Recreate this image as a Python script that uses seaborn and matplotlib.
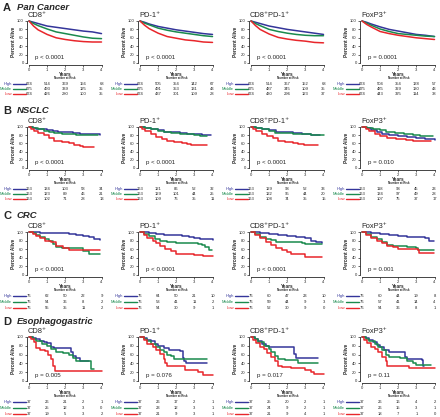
import matplotlib
matplotlib.use('Agg')
import matplotlib.pyplot as plt
import matplotlib.transforms as mtransforms
from matplotlib.lines import Line2D
import pandas as pd
import seaborn as sns

# ---- data ---------------------------------------------------------------
row_names = ['Pan Cancer', 'NSCLC', 'CRC', 'Esophagogastric']
row_letters = ['A', 'B', 'C', 'D']
markers = ['CD8', 'PD1', 'CD8PD1', 'FOXP3']
marker_titles = ['CD8\u207a', 'PD-1\u207a', 'CD8\u207aPD-1\u207a', 'FoxP3\u207a']
groups = ['High', 'Middle', 'Low']
risk_years = [0, 1, 2, 3, 4]

# survival curves as (years, percent alive) knots
pan_curves = {
    'CD8': {
        'High': [(0, 100), (.25, 97), (.5, 94), (1, 88), (1.5, 85), (2, 82), (2.5, 79), (3, 76), (3.5, 74), (4, 70)],
        'Middle': [(0, 100), (.25, 94), (.5, 89), (1, 81), (1.5, 74), (2, 70), (2.5, 66), (3, 62), (3.5, 59), (4, 58)],
        'Low': [(0, 100), (.25, 88), (.5, 79), (1, 68), (1.5, 60), (2, 56), (2.5, 53), (3, 51), (3.5, 50), (4, 50)],
    },
    'PD1': {
        'High': [(0, 100), (.25, 97), (.5, 93), (1, 87), (1.5, 83), (2, 79), (2.5, 76), (3, 73), (3.5, 70), (4, 68)],
        'Middle': [(0, 100), (.25, 95), (.5, 91), (1, 83), (1.5, 78), (2, 74), (2.5, 71), (3, 68), (3.5, 65), (4, 63)],
        'Low': [(0, 100), (.25, 90), (.5, 82), (1, 71), (1.5, 63), (2, 59), (2.5, 55), (3, 53), (3.5, 50), (4, 49)],
    },
    'CD8PD1': {
        'High': [(0, 100), (.25, 97), (.5, 94), (1, 88), (1.5, 84), (2, 80), (2.5, 77), (3, 74), (3.5, 71), (4, 68)],
        'Middle': [(0, 100), (.25, 94), (.5, 89), (1, 80), (1.5, 75), (2, 71), (2.5, 68), (3, 66), (3.5, 65), (4, 65)],
        'Low': [(0, 100), (.25, 89), (.5, 80), (1, 69), (1.5, 61), (2, 57), (2.5, 54), (3, 52), (3.5, 49), (4, 48)],
    },
    'FOXP3': {
        'High': [(0, 100), (.25, 97), (.5, 93), (1, 86), (1.5, 80), (2, 76), (2.5, 72), (3, 68), (3.5, 66), (4, 63)],
        'Middle': [(0, 100), (.25, 95), (.5, 90), (1, 81), (1.5, 75), (2, 70), (2.5, 68), (3, 66), (3.5, 64), (4, 63)],
        'Low': [(0, 100), (.25, 92), (.5, 86), (1, 75), (1.5, 70), (2, 66), (2.5, 63), (3, 60), (3.5, 58), (4, 56)],
    },
}
nsclc_curves = {
    'CD8': {
        'High': [(0, 100), (.2, 98), (.4, 96), (.7, 94), (1, 92), (1.3, 90), (1.6, 88), (2, 87), (2.4, 85), (2.8, 84), (3.2, 83), (3.6, 82), (3.9, 81)],
        'Middle': [(0, 100), (.2, 97), (.5, 94), (.8, 91), (1.1, 88), (1.4, 86), (1.8, 84), (2.2, 83), (2.6, 81), (3, 80), (3.8, 80)],
        'Low': [(0, 100), (.1, 95), (.3, 90), (.5, 86), (.8, 80), (1.1, 74), (1.4, 66), (1.8, 63), (2.2, 60), (2.5, 57), (2.8, 54), (3, 52), (3.6, 52)],
    },
    'PD1': {
        'High': [(0, 100), (.3, 97), (.6, 95), (1, 92), (1.3, 89), (1.7, 87), (2.2, 86), (2.6, 84), (3, 83), (3.4, 81), (3.9, 80)],
        'Middle': [(0, 100), (.3, 97), (.6, 94), (1, 91), (1.3, 88), (1.7, 86), (2.2, 84), (2.6, 82), (3, 80), (3.3, 78), (3.7, 78)],
        'Low': [(0, 100), (.1, 95), (.3, 90), (.6, 83), (.9, 76), (1.2, 70), (1.5, 66), (1.9, 64), (2.3, 61), (2.6, 58), (2.8, 56), (3.7, 55)],
    },
    'CD8PD1': {
        'High': [(0, 100), (.3, 97), (.6, 95), (1, 92), (1.4, 88), (1.8, 87), (2.3, 85), (2.8, 83), (3.3, 81), (3.8, 80)],
        'Middle': [(0, 100), (.3, 98), (.6, 94), (1, 90), (1.3, 86), (1.8, 85), (2.3, 84), (2.8, 82), (3.3, 81), (4, 81)],
        'Low': [(0, 100), (.1, 95), (.3, 90), (.6, 83), (.9, 77), (1.2, 72), (1.5, 67), (1.9, 64), (2.3, 61), (2.6, 58), (2.9, 55), (3.7, 55)],
    },
    'FOXP3': {
        'High': [(0, 100), (.2, 97), (.5, 93), (.8, 87), (1.1, 83), (1.5, 80), (2, 77), (2.5, 75), (3, 72), (3.5, 70), (4, 69)],
        'Middle': [(0, 100), (.3, 98), (.6, 96), (1, 93), (1.3, 88), (1.8, 86), (2.3, 83), (2.8, 81), (3.2, 79), (3.9, 78)],
        'Low': [(0, 100), (.2, 95), (.4, 90), (.7, 84), (1, 78), (1.4, 74), (1.9, 71), (2.4, 69), (2.8, 67), (3.3, 66), (3.8, 66)],
    },
}
crc_curves = {
    'CD8': {
        'High': [(0, 100), (.6, 98), (1.2, 97), (2.2, 95), (2.6, 93), (3, 91), (3.3, 88), (3.6, 83), (3.9, 81)],
        'Middle': [(0, 100), (.2, 97), (.4, 93), (.6, 88), (.9, 83), (1.1, 78), (1.3, 73), (1.5, 66), (1.8, 62), (2.7, 62), (3, 55), (3.3, 49), (3.9, 49)],
        'Low': [(0, 100), (.2, 95), (.4, 90), (.6, 85), (.9, 80), (1.2, 76), (1.5, 67), (1.9, 62), (2.2, 58), (2.5, 57), (3.9, 57)],
    },
    'PD1': {
        'High': [(0, 100), (.5, 98), (.9, 96), (1.3, 94), (1.8, 92), (2.3, 90), (2.7, 88), (3, 85), (3.3, 83), (4, 82)],
        'Middle': [(0, 100), (.2, 96), (.5, 90), (.8, 84), (1.1, 79), (1.5, 77), (2, 75), (2.6, 74), (3.2, 72), (3.4, 70), (3.6, 65), (3.8, 59), (3.95, 59)],
        'Low': [(0, 100), (.2, 93), (.4, 87), (.7, 80), (.9, 74), (1.1, 68), (1.4, 60), (1.7, 55), (2, 50), (2.8, 50), (3, 47), (3.5, 44), (4, 44)],
    },
    'CD8PD1': {
        'High': [(0, 100), (.5, 98), (1, 95), (1.5, 93), (2, 91), (2.5, 89), (3, 86), (3.3, 80), (3.6, 77), (3.9, 75)],
        'Middle': [(0, 100), (.2, 96), (.5, 89), (.8, 84), (1.1, 81), (1.4, 76), (2, 76), (2.8, 75), (3, 73), (3.9, 73)],
        'Low': [(0, 100), (.2, 94), (.5, 86), (.8, 77), (1.1, 70), (1.4, 62), (1.7, 57), (2, 54), (2.2, 50), (2.5, 49), (2.9, 48), (3, 43), (3.9, 43)],
    },
    'FOXP3': {
        'High': [(0, 100), (.5, 97), (1, 95), (1.5, 93), (2, 91), (2.5, 89), (3, 88), (3.5, 85), (3.7, 80), (3.95, 80)],
        'Middle': [(0, 100), (.2, 95), (.5, 89), (.8, 83), (1.1, 77), (1.4, 70), (1.7, 67), (2.5, 66), (3, 63), (3.1, 58), (3.95, 58)],
        'Low': [(0, 100), (.2, 94), (.5, 86), (.8, 80), (1.1, 74), (1.4, 68), (1.7, 64), (2, 61), (2.5, 60), (3.1, 58), (3.15, 52), (3.95, 52)],
    },
}
eg_curves = {
    'CD8': {
        'High': [(0, 100), (.2, 97), (.4, 95), (.6, 92), (.8, 89), (1, 86), (1.2, 78), (1.4, 75), (2.2, 75), (2.3, 65), (2.45, 56), (2.6, 52), (2.8, 45), (3.3, 45)],
        'Middle': [(0, 100), (.2, 96), (.4, 92), (.7, 85), (1, 80), (1.2, 72), (1.5, 67), (1.9, 63), (2.2, 58), (2.4, 52), (2.6, 45), (3.3, 45), (3.4, 28), (3.6, 28)],
        'Low': [(0, 100), (.1, 95), (.3, 88), (.4, 76), (.6, 70), (.9, 68), (1.05, 60), (1.2, 50), (1.35, 35), (1.45, 22), (4, 22)],
    },
    'PD1': {
        'High': [(0, 100), (.2, 97), (.4, 94), (.6, 90), (.8, 85), (1, 80), (1.3, 74), (1.6, 70), (2.2, 69), (2.35, 52), (2.45, 45), (2.55, 40), (3.7, 40)],
        'Middle': [(0, 100), (.2, 95), (.4, 90), (.6, 83), (.9, 77), (1.1, 71), (1.3, 66), (1.5, 60), (1.7, 56), (1.9, 50), (3.7, 50)],
        'Low': [(0, 100), (.2, 93), (.4, 85), (.7, 78), (.9, 70), (1.1, 62), (1.3, 50), (1.4, 42), (1.5, 35), (2.3, 35), (2.5, 25), (3.2, 21), (3.5, 14), (4, 14)],
    },
    'CD8PD1': {
        'High': [(0, 100), (.2, 96), (.4, 90), (.6, 84), (.8, 80), (1, 77), (2.2, 77), (2.35, 62), (2.5, 53), (3.7, 53)],
        'Middle': [(0, 100), (.2, 95), (.4, 88), (.7, 80), (1, 72), (1.1, 65), (1.3, 56), (1.5, 50), (1.9, 47), (2.5, 47), (2.6, 40), (3.7, 40)],
        'Low': [(0, 100), (.1, 94), (.3, 86), (.5, 78), (.7, 72), (.9, 63), (1.1, 55), (1.3, 45), (1.5, 35), (1.7, 32), (2.2, 30), (3, 26), (3.3, 21), (3.5, 15), (4, 15)],
    },
    'FOXP3': {
        'High': [(0, 100), (.2, 97), (.4, 93), (.6, 88), (.8, 82), (1, 77), (1.2, 70), (1.5, 66), (2.2, 66), (2.35, 55), (2.5, 50), (3.3, 48), (3.35, 33), (3.4, 33)],
        'Middle': [(0, 100), (.2, 96), (.4, 90), (.7, 83), (.9, 77), (1.1, 70), (1.3, 60), (1.5, 55), (2.1, 53), (2.5, 46), (2.8, 42), (3, 37), (3.8, 37)],
        'Low': [(0, 100), (.1, 94), (.3, 86), (.5, 78), (.7, 72), (.9, 65), (1.1, 55), (1.3, 45), (1.4, 35), (2.5, 35), (2.6, 30), (4, 30)],
    },
}

# number at risk at 0..4 years
pan_risk = {
    'CD8': {'High': [674, 514, 369, 156, 68], 'Middle': [675, 493, 339, 125, 35], 'Low': [674, 426, 280, 100, 35]},
    'PD1': {'High': [674, 505, 354, 142, 67], 'Middle': [675, 491, 353, 131, 43], 'Low': [674, 437, 301, 109, 28]},
    'CD8PD1': {'High': [674, 514, 367, 152, 68], 'Middle': [675, 487, 345, 109, 35], 'Low': [674, 430, 296, 123, 37]},
    'FOXP3': {'High': [674, 504, 354, 138, 57], 'Middle': [675, 485, 329, 130, 43], 'Low': [674, 443, 325, 114, 38]},
}
nsclc_risk = {
    'CD8': {'High': [163, 134, 103, 58, 34], 'Middle': [163, 123, 89, 46, 21], 'Low': [163, 102, 71, 28, 13]},
    'PD1': {'High': [163, 121, 86, 52, 32], 'Middle': [163, 129, 101, 44, 25], 'Low': [163, 109, 76, 35, 11]},
    'CD8PD1': {'High': [163, 129, 93, 52, 33], 'Middle': [163, 122, 95, 44, 20], 'Low': [163, 108, 74, 35, 15]},
    'FOXP3': {'High': [163, 118, 93, 45, 23], 'Middle': [163, 134, 97, 49, 28], 'Low': [163, 107, 75, 37, 17]},
}
crc_risk = {
    'CD8': {'High': [76, 62, 50, 22, 9], 'Middle': [76, 54, 36, 8, 2], 'Low': [76, 55, 35, 11, 2]},
    'PD1': {'High': [76, 64, 50, 21, 10], 'Middle': [76, 53, 41, 11, 2], 'Low': [76, 54, 30, 9, 1]},
    'CD8PD1': {'High': [76, 60, 47, 23, 10], 'Middle': [76, 59, 44, 9, 3], 'Low': [76, 52, 30, 9, 0]},
    'FOXP3': {'High': [76, 60, 44, 19, 8], 'Middle': [76, 57, 41, 14, 4], 'Low': [76, 54, 36, 8, 1]},
}
eg_risk = {
    'CD8': {'High': [37, 26, 21, 2, 1], 'Middle': [37, 25, 12, 3, 0], 'Low': [37, 19, 5, 3, 2]},
    'PD1': {'High': [37, 26, 17, 2, 1], 'Middle': [37, 23, 12, 3, 1], 'Low': [37, 21, 9, 3, 1]},
    'CD8PD1': {'High': [37, 25, 20, 2, 1], 'Middle': [37, 24, 9, 2, 1], 'Low': [37, 21, 9, 4, 1]},
    'FOXP3': {'High': [37, 26, 16, 4, 2], 'Middle': [37, 26, 15, 3, 1], 'Low': [37, 18, 7, 1, 0]},
}

pan_p = ['p < 0.0001', 'p < 0.0001', 'p < 0.0001', 'p = 0.0001']
nsclc_p = ['p < 0.0001', 'p < 0.0001', 'p < 0.0001', 'p = 0.010']
crc_p = ['p < 0.0001', 'p < 0.0001', 'p < 0.0001', 'p = 0.001']
eg_p = ['p = 0.005', 'p = 0.076', 'p = 0.017', 'p = 0.11']

all_curves = [pan_curves, nsclc_curves, crc_curves, eg_curves]
all_risk = [pan_risk, nsclc_risk, crc_risk, eg_risk]
all_p = [pan_p, nsclc_p, crc_p, eg_p]

# ---- layout (pixels) -----------------------------------------------------
W, H = 440, 417
col_left = [29, 140, 251, 362]
col_width = 72.5
row_axes = [(21, 63), (127, 168), (232, 275), (337, 381)]   # y of 100 % and 0 %
row_header_y = [8, 110.5, 216, 322]
row_risk_gap = [5, 5, 5.8, 5.8]
palette = {'High': '#34359a', 'Middle': '#1a8a4d', 'Low': '#e8262b'}

sns.set_theme(style='ticks')
plt.rcParams['font.family'] = ['Liberation Sans', 'DejaVu Sans']
plt.rcParams['axes.linewidth'] = 0.6


def fx(px):
    return px / W


def fy(py):
    return 1 - py / H


fig = plt.figure(figsize=(W / 100, H / 100), dpi=100)

for r in range(4):
    y100, y0 = row_axes[r]
    fig.text(fx(3), fy(row_header_y[r]), row_letters[r], fontsize=8, fontweight='bold',
             va='center', ha='left')
    fig.text(fx(17), fy(row_header_y[r]), row_names[r], fontsize=6.8, fontweight='bold',
             fontstyle='italic', va='center', ha='left')
    for c, key in enumerate(markers):
        L = col_left[c]
        ax = fig.add_axes([fx(L), fy(y0), fx(col_width), (y0 - y100) / H])
        ds = 'default' if r == 0 else 'steps-post'
        for g in groups:
            df = pd.DataFrame(all_curves[r][key][g], columns=['Years', 'Percent Alive'])
            sns.lineplot(data=df, x='Years', y='Percent Alive', color=palette[g], lw=1.1,
                         drawstyle=ds, estimator=None, clip_on=False, ax=ax)
        ax.set_xlim(0, 4)
        ax.set_ylim(0, 100)
        ax.set_xticks(risk_years)
        ax.set_yticks(range(0, 101, 20))
        sns.despine(ax=ax)
        ax.spines['left'].set_position(('outward', 1.5))
        ax.spines['bottom'].set_position(('outward', 1.5))
        ax.tick_params(length=1.5, width=0.5, labelsize=3, pad=0.8)
        ax.set_xlabel('')
        ax.set_ylabel('Percent Alive', fontsize=3.4, fontweight='bold', labelpad=1)
        ax.text(0.08, 0.13, all_p[r][c], transform=ax.transAxes, fontsize=4.4,
                ha='left', va='center')
        fig.text(fx(L - 1), fy(y100 - 5.5), marker_titles[c], fontsize=5.4,
                 ha='left', va='center')
        fig.text(fx(L + col_width / 2), fy(y0 + 11.3), 'Years', fontsize=3.4,
                 fontweight='bold', ha='center', va='center')
        fig.text(fx(L + col_width / 2), fy(y0 + 15.2), 'Number at Risk', fontsize=2.1,
                 fontweight='bold', ha='center', va='center')

        # risk table
        trans = mtransforms.blended_transform_factory(ax.transData, fig.transFigure)
        for i, g in enumerate(groups):
            yy = y0 + 21 + i * row_risk_gap[r]
            fig.text(fx(L - 17), fy(yy), g, color=palette[g], fontsize=3,
                     ha='right', va='center')
            fig.add_artist(Line2D([fx(L - 16), fx(L - 3)], [fy(yy), fy(yy)],
                                  color=palette[g], lw=1.0))
            for yr, n in zip(risk_years, all_risk[r][key][g]):
                ax.text(yr, fy(yy), str(n), transform=trans, fontsize=3,
                        ha='center', va='center', color='#222222')

fig.savefig('out.png', dpi=100)
